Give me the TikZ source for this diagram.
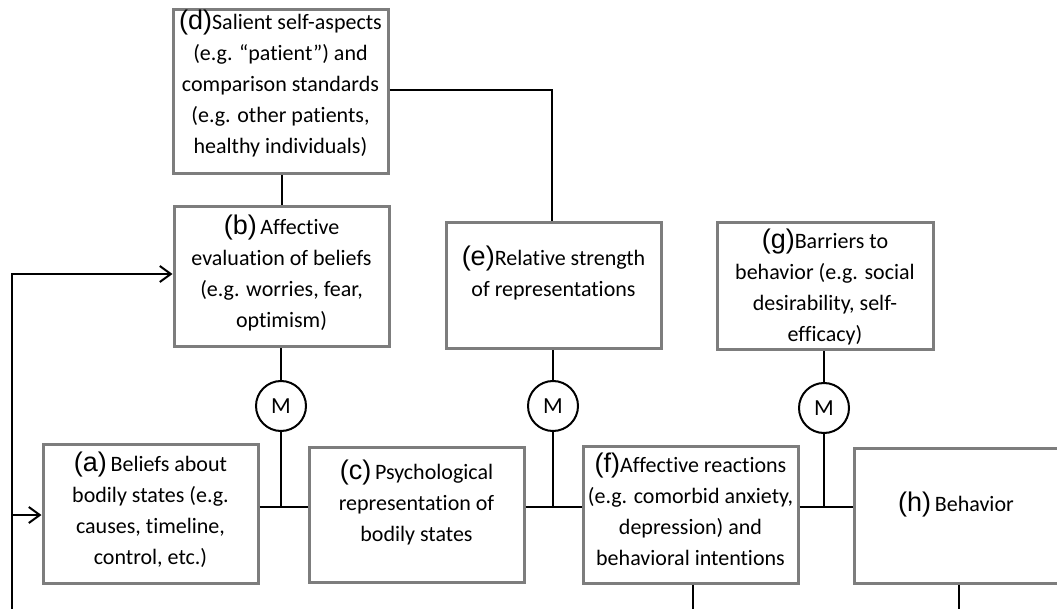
\documentclass[tikz,border=0pt]{standalone}
\usepackage{fontspec}
\setmainfont{Carlito}[Ligatures=NoCommon]
\newfontfamily\labfont{Liberation Sans}
\usetikzlibrary{arrows.meta}
\definecolor{boxgray}{RGB}{125,125,125}
\newcommand{\lab}[1]{{\fontsize{27}{31}\labfont(#1)}}
\begin{document}
\begin{tikzpicture}[x=1pt,y=-1pt,
  box/.style={draw=boxgray, line width=3pt, fill=white, inner sep=0pt},
  txt/.style={align=center, font=\fontsize{22}{31}\selectfont, inner sep=0pt},
  mcirc/.style={circle, draw, line width=2pt, minimum size=50pt, inner sep=0pt, fill=white, font=\fontsize{23}{24}\selectfont},
  conn/.style={line width=2pt},
  arr/.style={line width=2pt, -{Straight Barb[length=11pt,width=16pt]}}]
\useasboundingbox[fill=white] (0,0) rectangle (1057,609);

% boxes
\node[box, minimum width=215pt, minimum height=139pt] (a) at (150.5,513.5) {};
\node[box, minimum width=215pt, minimum height=140pt] (b) at (281.5,277) {};
\node[box, minimum width=215pt, minimum height=135pt] (c) at (416.5,514.5) {};
\node[box, minimum width=215pt, minimum height=164pt] (d) at (280.5,92) {};
\node[box, minimum width=215pt, minimum height=126pt] (e) at (553.5,286) {};
\node[box, minimum width=215pt, minimum height=137pt] (f) at (690.5,514.5) {};
\node[box, minimum width=216pt, minimum height=127pt] (g) at (825,286.5) {};
\node[box, minimum width=206pt, minimum height=135pt] (h) at (957,515.5) {};

% texts
\node[txt] (ta) at (150.5,510) {\lab{a}\,Beliefs about\\bodily states (e.g.\\causes, timeline,\\control, etc.)};
\node[txt] (tb) at (281.5,273) {\lab{b}\,Affective\\evaluation of beliefs\\(e.g. worries, fear,\\optimism)};
\node[txt] (tc) at (416.5,502) {\lab{c}\,Psychological\\representation of\\bodily states};
\node[txt] (td) at (280.5,83) {\lab{d}Salient self-aspects\\(e.g. “patient”) and\\comparison standards\\(e.g. other patients,\\healthy individuals)};
\node[txt] (te) at (553.5,273) {\lab{e}Relative strength\\of representations};
\node[txt] (tf) at (690.5,509) {\lab{f}Affective reactions\\(e.g. comorbid anxiety,\\depression) and\\behavioral intentions};
\node[txt] (tg) at (825,287) {\lab{g}Barriers to\\behavior (e.g. social\\desirability, self-\\efficacy)};
\node[txt] (th) at (956,505) {\lab{h}\,Behavior};

% moderators
\node[mcirc] (m1) at (281,406) {M};
\node[mcirc] (m2) at (553,406) {M};
\node[mcirc] (m3) at (824,408) {M};

% junctions
\coordinate (j1) at (281,507);
\coordinate (j2) at (553,507);
\coordinate (j3) at (824,507);
\coordinate (de) at (552,90);

% connectors
\draw[conn] (d.east |- de) -- (de) -- (de |- e.north);
\draw[conn] (d.south -| b.north) -- (b.north);
\draw[conn] (b.south -| m1) -- (m1);
\draw[conn] (m1) -- (j1);
\draw[conn] (e.south -| m2) -- (m2);
\draw[conn] (m2) -- (j2);
\draw[conn] (g.south -| m3) -- (m3);
\draw[conn] (m3) -- (j3);
\draw[conn] (a.east |- j1) -- (c.west |- j1);
\draw[conn] (c.east |- j2) -- (f.west |- j2);
\draw[conn] (f.east |- j3) -- (h.west |- j3);

% outgoing lines
\coordinate (fo) at (693,612);
\coordinate (ho) at (959,612);
\draw[conn] (fo |- f.south) -- (fo);
\draw[conn] (ho |- h.south) -- (ho);

% feedback
\coordinate (fb) at (12,612);
\coordinate (fbt) at (12,274);
\coordinate (fba) at (12,515);
\draw[arr] (fb) -- (fbt) -- (b.west |- fbt);
\draw[arr] (fba) -- (a.west |- fba);
\end{tikzpicture}
\end{document}
